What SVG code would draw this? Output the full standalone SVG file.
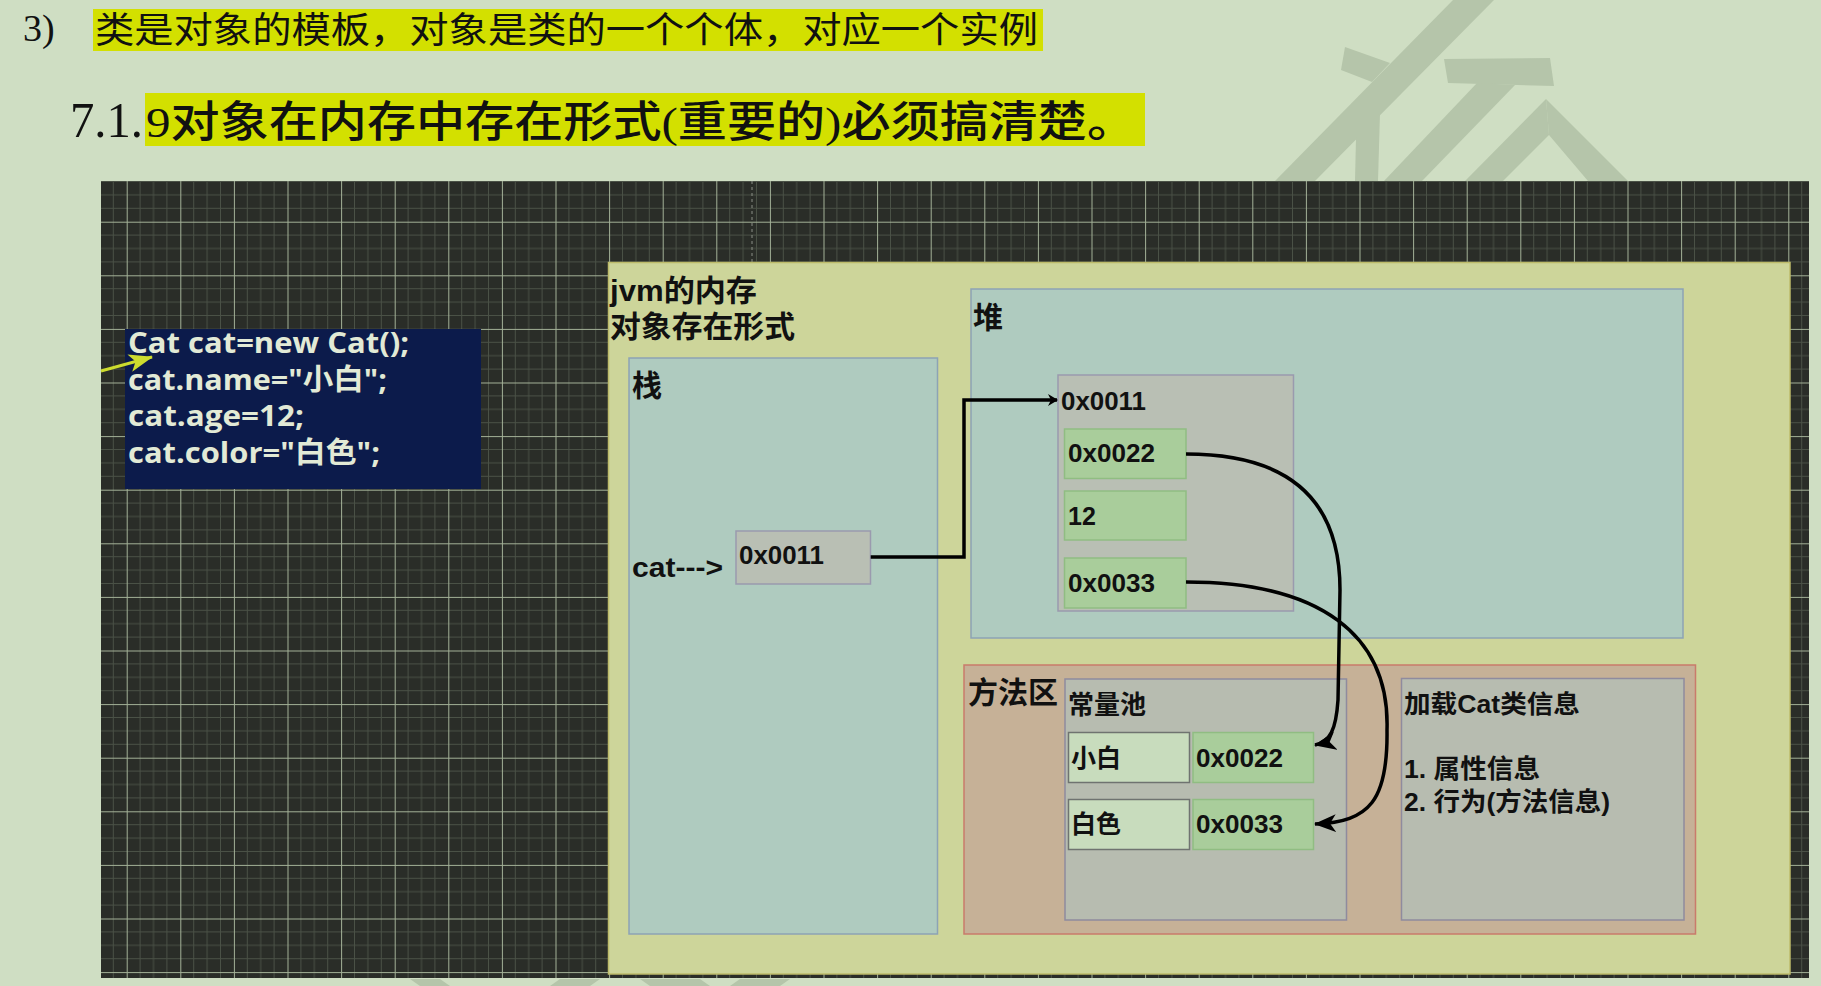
<svg xmlns="http://www.w3.org/2000/svg" width="1821" height="986" viewBox="0 0 1821 986">
<defs>
<style>
.t{font-family:"Liberation Sans","Noto Sans CJK SC",sans-serif;font-weight:bold;fill:#111;}
.hx{font-size:25px;}
.code{font-family:"Open Sans","Noto Sans CJK SC",sans-serif;font-weight:700;fill:#e2ead6;font-size:29px;}
.wm{fill:#b5c5aa;}
.area{fill:#afcbbf;stroke:#8da3b5;stroke-width:1.5;}
.obj{fill:#b9bfb4;stroke:#9a9aae;stroke-width:1.5;}
.cell{fill:#a9cd9b;stroke:#90bd82;stroke-width:1.5;}
.light{fill:#c8dcbd;stroke:#6f7370;stroke-width:1.5;}
.method{fill:#c6b197;stroke:#c97b6b;stroke-width:1.5;}
.pool{fill:#b7bcb0;stroke:#8f8b9e;stroke-width:1.5;}
.conn{fill:none;stroke:#000;stroke-width:3.5;}
</style>
<pattern id="grid" patternUnits="userSpaceOnUse" x="126.7" y="221.7" width="53.6" height="53.6">
<rect width="53.6" height="53.6" fill="#2a2d28"/>
<path d="M13.4,0V53.6M26.8,0V53.6M40.2,0V53.6M0,13.4H53.6M0,26.8H53.6M0,40.2H53.6" stroke="#4a5146" stroke-width="1"/>
<path d="M0.5,0V53.6M0,0.5H53.6" stroke="#a3b197" stroke-width="1"/>
</pattern>
<marker id="ah" viewBox="0 0 22 18" refX="21" refY="9" markerWidth="22" markerHeight="18" markerUnits="userSpaceOnUse" orient="auto"><path d="M0,0 L22,9 L0,18 L6,9 z" fill="#000"/></marker>
<marker id="ahs" viewBox="0 0 10 12" refX="9" refY="6" markerWidth="10" markerHeight="12" markerUnits="userSpaceOnUse" orient="auto"><path d="M0,0 L10,6 L0,12 L3,6 z" fill="#000"/></marker>
<marker id="ahy" viewBox="0 0 24 18" refX="23" refY="9" markerWidth="24" markerHeight="18" markerUnits="userSpaceOnUse" orient="auto"><path d="M0,0 L24,9 L0,18 L6,9 z" fill="#cddc2e"/></marker>
</defs>
<rect width="1821" height="986" fill="#cfdec3"/>
<g id="watermark">
<polygon class="wm" points="1453,0 1494,0 1315,181 1275,181"/>
<polygon class="wm" points="1345,47 1390,63 1372,82 1341,70"/>
<polygon class="wm" points="1380,113 1378,181 1355,181 1356,138"/>
<polygon class="wm" points="1444,59 1550,58 1554,86 1448,83"/>
<polygon class="wm" points="1477,83 1515,85 1422,181 1384,181"/>
<polygon class="wm" points="1546,99 1549,135 1503,181 1465,181"/>
<polygon class="wm" points="1546,99 1628,181 1588,181 1549,135"/>
<polygon class="wm" points="410,979 440,979 450,986 420,986"/>
<polygon class="wm" points="560,979 600,979 590,986 550,986"/>
<polygon class="wm" points="640,979 700,979 710,986 650,986"/>
<polygon class="wm" points="740,979 790,979 780,986 730,986"/>
</g>
<g id="title">
<rect x="93" y="9" width="950" height="42" fill="#d3e000"/>
<text x="23" y="41" font-family="Liberation Serif,serif" font-size="38" fill="#111">3)</text>
<text x="95" y="43" font-family="Noto Sans CJK SC,sans-serif" font-size="36" fill="#111" textLength="943" lengthAdjust="spacingAndGlyphs">类是对象的模板，对象是类的一个个体，对应一个实例</text>
<rect x="145" y="93" width="1000" height="53" fill="#d3e000"/>
<text x="70" y="137" font-family="Liberation Serif,serif" font-size="50" fill="#111" textLength="73" lengthAdjust="spacingAndGlyphs">7.1.</text>
<text x="146" y="137" font-family="Liberation Serif,Noto Sans CJK SC,serif" font-size="43" font-weight="500" fill="#111" textLength="990" lengthAdjust="spacingAndGlyphs">9对象在内存中存在形式(重要的)必须搞清楚。</text>
</g>
<rect id="canvas" x="101" y="181" width="1708" height="797" fill="url(#grid)"/>
<line x1="752" y1="181" x2="752" y2="262" stroke="#8a8f86" stroke-width="1" stroke-dasharray="3,3"/>
<g id="code">
<rect x="125" y="329" width="356" height="160" fill="#0c1b4b"/>
<text class="code" x="128" y="353" textLength="281" lengthAdjust="spacingAndGlyphs">Cat cat=new Cat();</text>
<text class="code" x="128" y="389.5" textLength="259" lengthAdjust="spacingAndGlyphs">cat.name="小白";</text>
<text class="code" x="128" y="426" textLength="176" lengthAdjust="spacingAndGlyphs">cat.age=12;</text>
<text class="code" x="128" y="462.5" textLength="252" lengthAdjust="spacingAndGlyphs">cat.color="白色";</text>
</g>
<g id="jvm">
<rect x="608.5" y="262.5" width="1181.5" height="711.5" fill="#cdd59a" stroke="#bdbb6a" stroke-width="1.5"/>
<text class="t" x="610" y="301" font-size="30" textLength="147" lengthAdjust="spacingAndGlyphs">jvm的内存</text>
<text class="t" x="610" y="337" font-size="30" textLength="185" lengthAdjust="spacingAndGlyphs">对象存在形式</text>
</g>
<g id="stack">
<rect class="area" x="629" y="358" width="308.5" height="576"/>
<text class="t" x="632" y="396" font-size="30">栈</text>
<text class="t" x="632" y="577" font-size="28" textLength="91" lengthAdjust="spacingAndGlyphs">cat---&gt;</text>
</g>
<g id="stack-ref">
<rect class="obj" x="736" y="531" width="134.5" height="53"/>
<text class="t hx" x="739" y="564" textLength="85" lengthAdjust="spacingAndGlyphs">0x0011</text>
</g>
<g id="heap">
<rect class="area" x="971" y="289" width="712" height="349"/>
<text class="t" x="973" y="328" font-size="30">堆</text>
</g>
<g id="cat-object">
<rect class="obj" x="1058" y="375" width="235.5" height="236"/>
<text class="t hx" x="1061" y="410" textLength="85" lengthAdjust="spacingAndGlyphs">0x0011</text>
</g>
<g id="field-name">
<rect class="cell" x="1064.5" y="429" width="121.5" height="49.5"/>
<text class="t hx" x="1068" y="462" textLength="87" lengthAdjust="spacingAndGlyphs">0x0022</text>
</g>
<g id="field-age">
<rect class="cell" x="1064.5" y="491" width="121.5" height="49"/>
<text class="t hx" x="1068" y="525">12</text>
</g>
<g id="field-color">
<rect class="cell" x="1064.5" y="558" width="121.5" height="50"/>
<text class="t hx" x="1068" y="592" textLength="87" lengthAdjust="spacingAndGlyphs">0x0033</text>
</g>
<g id="method-area">
<rect class="method" x="964" y="665" width="731.5" height="269"/>
<text class="t" x="968" y="703" font-size="30">方法区</text>
</g>
<g id="constant-pool">
<rect class="pool" x="1065" y="679" width="281.5" height="241"/>
<text class="t" x="1068" y="714" font-size="26">常量池</text>
</g>
<g id="const-xiaobai">
<rect class="light" x="1068.5" y="732.5" width="121" height="50"/>
<text class="t" x="1071" y="767" font-size="25">小白</text>
<rect class="cell" x="1193" y="732.5" width="120.5" height="50"/>
<text class="t hx" x="1196" y="767" textLength="87" lengthAdjust="spacingAndGlyphs">0x0022</text>
</g>
<g id="const-baise">
<rect class="light" x="1068.5" y="799.5" width="121" height="50"/>
<text class="t" x="1071" y="833" font-size="25">白色</text>
<rect class="cell" x="1193" y="799.5" width="120.5" height="50"/>
<text class="t hx" x="1196" y="833" textLength="87" lengthAdjust="spacingAndGlyphs">0x0033</text>
</g>
<g id="class-info">
<rect class="pool" x="1401.5" y="678.5" width="282.5" height="241.5"/>
<text class="t" x="1404" y="713" font-size="25" textLength="176" lengthAdjust="spacingAndGlyphs">加载Cat类信息</text>
<text class="t" x="1404" y="778" font-size="26" textLength="136" lengthAdjust="spacingAndGlyphs">1. 属性信息</text>
<text class="t" x="1404" y="811" font-size="26" textLength="206" lengthAdjust="spacingAndGlyphs">2. 行为(方法信息)</text>
</g>
<g id="connectors">
<line x1="101" y1="371" x2="152" y2="357" stroke="#cddc2e" stroke-width="3" marker-end="url(#ahy)"/>
<path class="conn" d="M870.7,557 H964 V400 H1057" marker-end="url(#ahs)"/>
<path class="conn" d="M1186,454 C1290,454 1340,500 1340,590 L1338,700 C1336,730 1330,742 1315,745" marker-end="url(#ah)"/>
<path class="conn" d="M1186,582 C1320,582 1390,635 1387,730 C1388,800 1370,822 1315,824" marker-end="url(#ah)"/>
</g>
</svg>
